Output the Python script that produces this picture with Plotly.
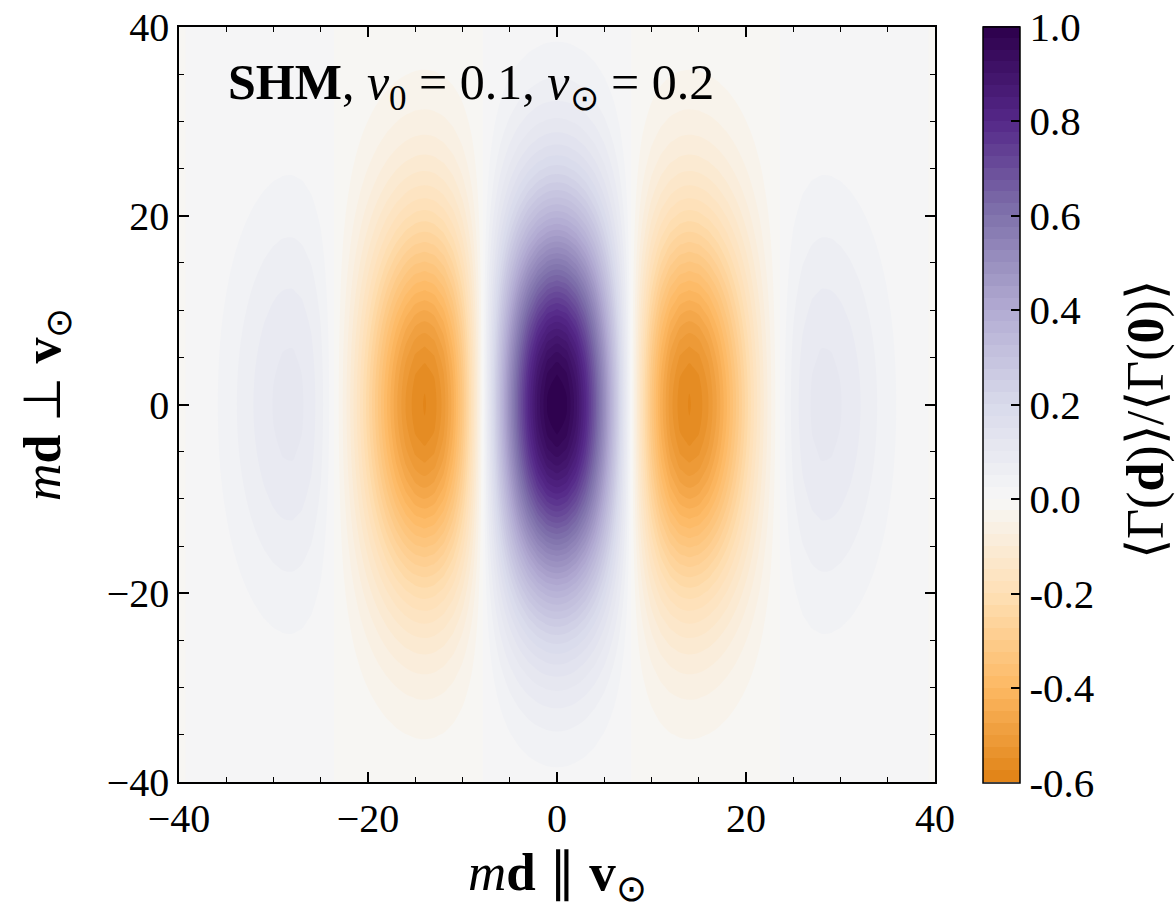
import plotly.graph_objects as go

# grid coordinates (md parallel / perpendicular to v_sun)
x_vals = list(range(-40, 41))
y_vals = list(range(-40, 41))

# profile along md || v_sun at md_perp = 0
profile_half = [1.0, 0.9777, 0.9119, 0.8070, 0.6694, 0.5076, 0.3312, 0.1504, -0.0249,
                -0.1856, -0.3241, -0.4349, -0.5145, -0.5616, -0.5772, -0.5641, -0.5264,
                -0.4694, -0.3990, -0.3208, -0.2405, -0.1628, -0.0916, -0.0299, 0.0207,
                0.0595, 0.0864, 0.1026, 0.1093, 0.1082, 0.1012, 0.0902, 0.0768, 0.0624,
                0.0483, 0.0353, 0.0238, 0.0143, 0.0068, 0.0012, -0.0027]
profile = profile_half[::-1] + profile_half[1:]

# relative fall-off along md perp v_sun (read from lobe extents)
envelope_half = [1.0, 0.9975, 0.9900, 0.9778, 0.9608, 0.9394, 0.9139, 0.8847, 0.8521,
                 0.8167, 0.7788, 0.7390, 0.6977, 0.6554, 0.6126, 0.5698, 0.5273, 0.4855,
                 0.4449, 0.4056, 0.3679, 0.3321, 0.2982, 0.2665, 0.2369, 0.2096, 0.1845,
                 0.1616, 0.1409, 0.1222, 0.1054, 0.0905, 0.0773, 0.0657, 0.0556, 0.0468,
                 0.0392, 0.0326, 0.0271, 0.0223, 0.0183]
envelope = envelope_half[::-1] + envelope_half[1:]

z_table = [[e * p for p in profile] for e in envelope]

# colour scale anchors (PuOr)
cb_anchor_vals = [-0.6, -0.4, -0.2, 0.0, 0.2, 0.4, 0.6, 0.8, 1.0]
cb_anchor_cols = ["#e08214", "#fdb863", "#fee0b6", "#f7f7f7", "#d8daeb",
                  "#b2abd2", "#8073ac", "#542788", "#2d004b"]
zmin, zmax = -0.6, 1.0
colorscale = [[(v - zmin) / (zmax - zmin), c] for v, c in zip(cb_anchor_vals, cb_anchor_cols)]

cb_tickvals = [-0.6, -0.4, -0.2, 0.0, 0.2, 0.4, 0.6, 0.8, 1.0]
cb_ticktext = ["-0.6", "-0.4", "-0.2", "0.0", "0.2", "0.4", "0.6", "0.8", "1.0"]

FONT = "Liberation Serif"
TICK_SIZE = 40

fig = go.Figure()
fig.add_trace(go.Contour(
    x=x_vals, y=y_vals, z=z_table,
    colorscale=colorscale, zmin=zmin, zmax=zmax,
    autocontour=False,
    contours=dict(start=-0.6, end=1.0, size=0.025, coloring="fill", showlines=False),
    line=dict(width=0),
    colorbar=dict(
        x=(983 - 179) / 756, xanchor="left", xpad=0,
        y=0.5, yanchor="middle", len=(781 - 25) / 755, lenmode="fraction",
        thickness=37, ypad=0,
        outlinecolor="black", outlinewidth=1.5,
        tickvals=cb_tickvals, ticktext=cb_ticktext,
        ticks="inside", ticklen=9, tickwidth=1.5, tickcolor="black",
        ticklabeloverflow="allow",
        tickfont=dict(family=FONT, size=41, color="black"),
    ),
))

axis_common = dict(
    range=[-40, 40], showgrid=False, zeroline=False,
    showline=True, linecolor="black", linewidth=1.5, mirror="allticks",
    ticks="inside", ticklen=10, tickwidth=1.5, tickcolor="black",
    tickvals=[-40, -20, 0, 20, 40], ticklabeloverflow="allow",
    tickfont=dict(family=FONT, size=TICK_SIZE, color="black"),
    minor=dict(dtick=5, ticks="inside", ticklen=5, tickwidth=1.2, tickcolor="black"),
)

fig.update_layout(
    width=1176, height=908,
    margin=dict(l=179, r=241, t=27, b=126, autoexpand=False),
    paper_bgcolor="white", plot_bgcolor="white",
    xaxis=dict(**axis_common),
    yaxis=dict(**axis_common),
    showlegend=False,
    annotations=[
        dict(text="<b>SHM</b>, <i>v</i><sub>0</sub> = 0.1, <i>v</i><sub>⊙</sub> = 0.2",
             xref="paper", yref="paper", x=(226 - 179) / 756, y=1 - (86 - 27) / 755,
             xanchor="left", yanchor="middle", showarrow=False,
             font=dict(family=FONT, size=50, color="black")),
        dict(text="<i>m</i><b>d</b> ∥ <b>v</b><sub>⊙</sub>",
             xref="paper", yref="paper", x=0.5, y=1 - (876 - 27) / 755,
             xanchor="center", yanchor="middle", showarrow=False,
             font=dict(family=FONT, size=53, color="black")),
        dict(text="<i>m</i><b>d</b> ⊥ <b>v</b><sub>⊙</sub>",
             xref="paper", yref="paper", x=(46 - 179) / 756, y=1 - (405 - 27) / 755,
             xanchor="center", yanchor="middle", showarrow=False, textangle=-90,
             font=dict(family=FONT, size=52, color="black")),
        dict(text="⟨Γ(<b>d</b>)⟩/⟨Γ(<b>0</b>)⟩",
             xref="paper", yref="paper", x=(1146 - 179) / 756, y=1 - (420 - 27) / 755,
             xanchor="center", yanchor="middle", showarrow=False, textangle=-90,
             font=dict(family=FONT, size=52, color="black")),
    ],
)

fig.write_html("out.html", config={"displayModeBar": False},
               post_script="document.body.style.margin='0';")
